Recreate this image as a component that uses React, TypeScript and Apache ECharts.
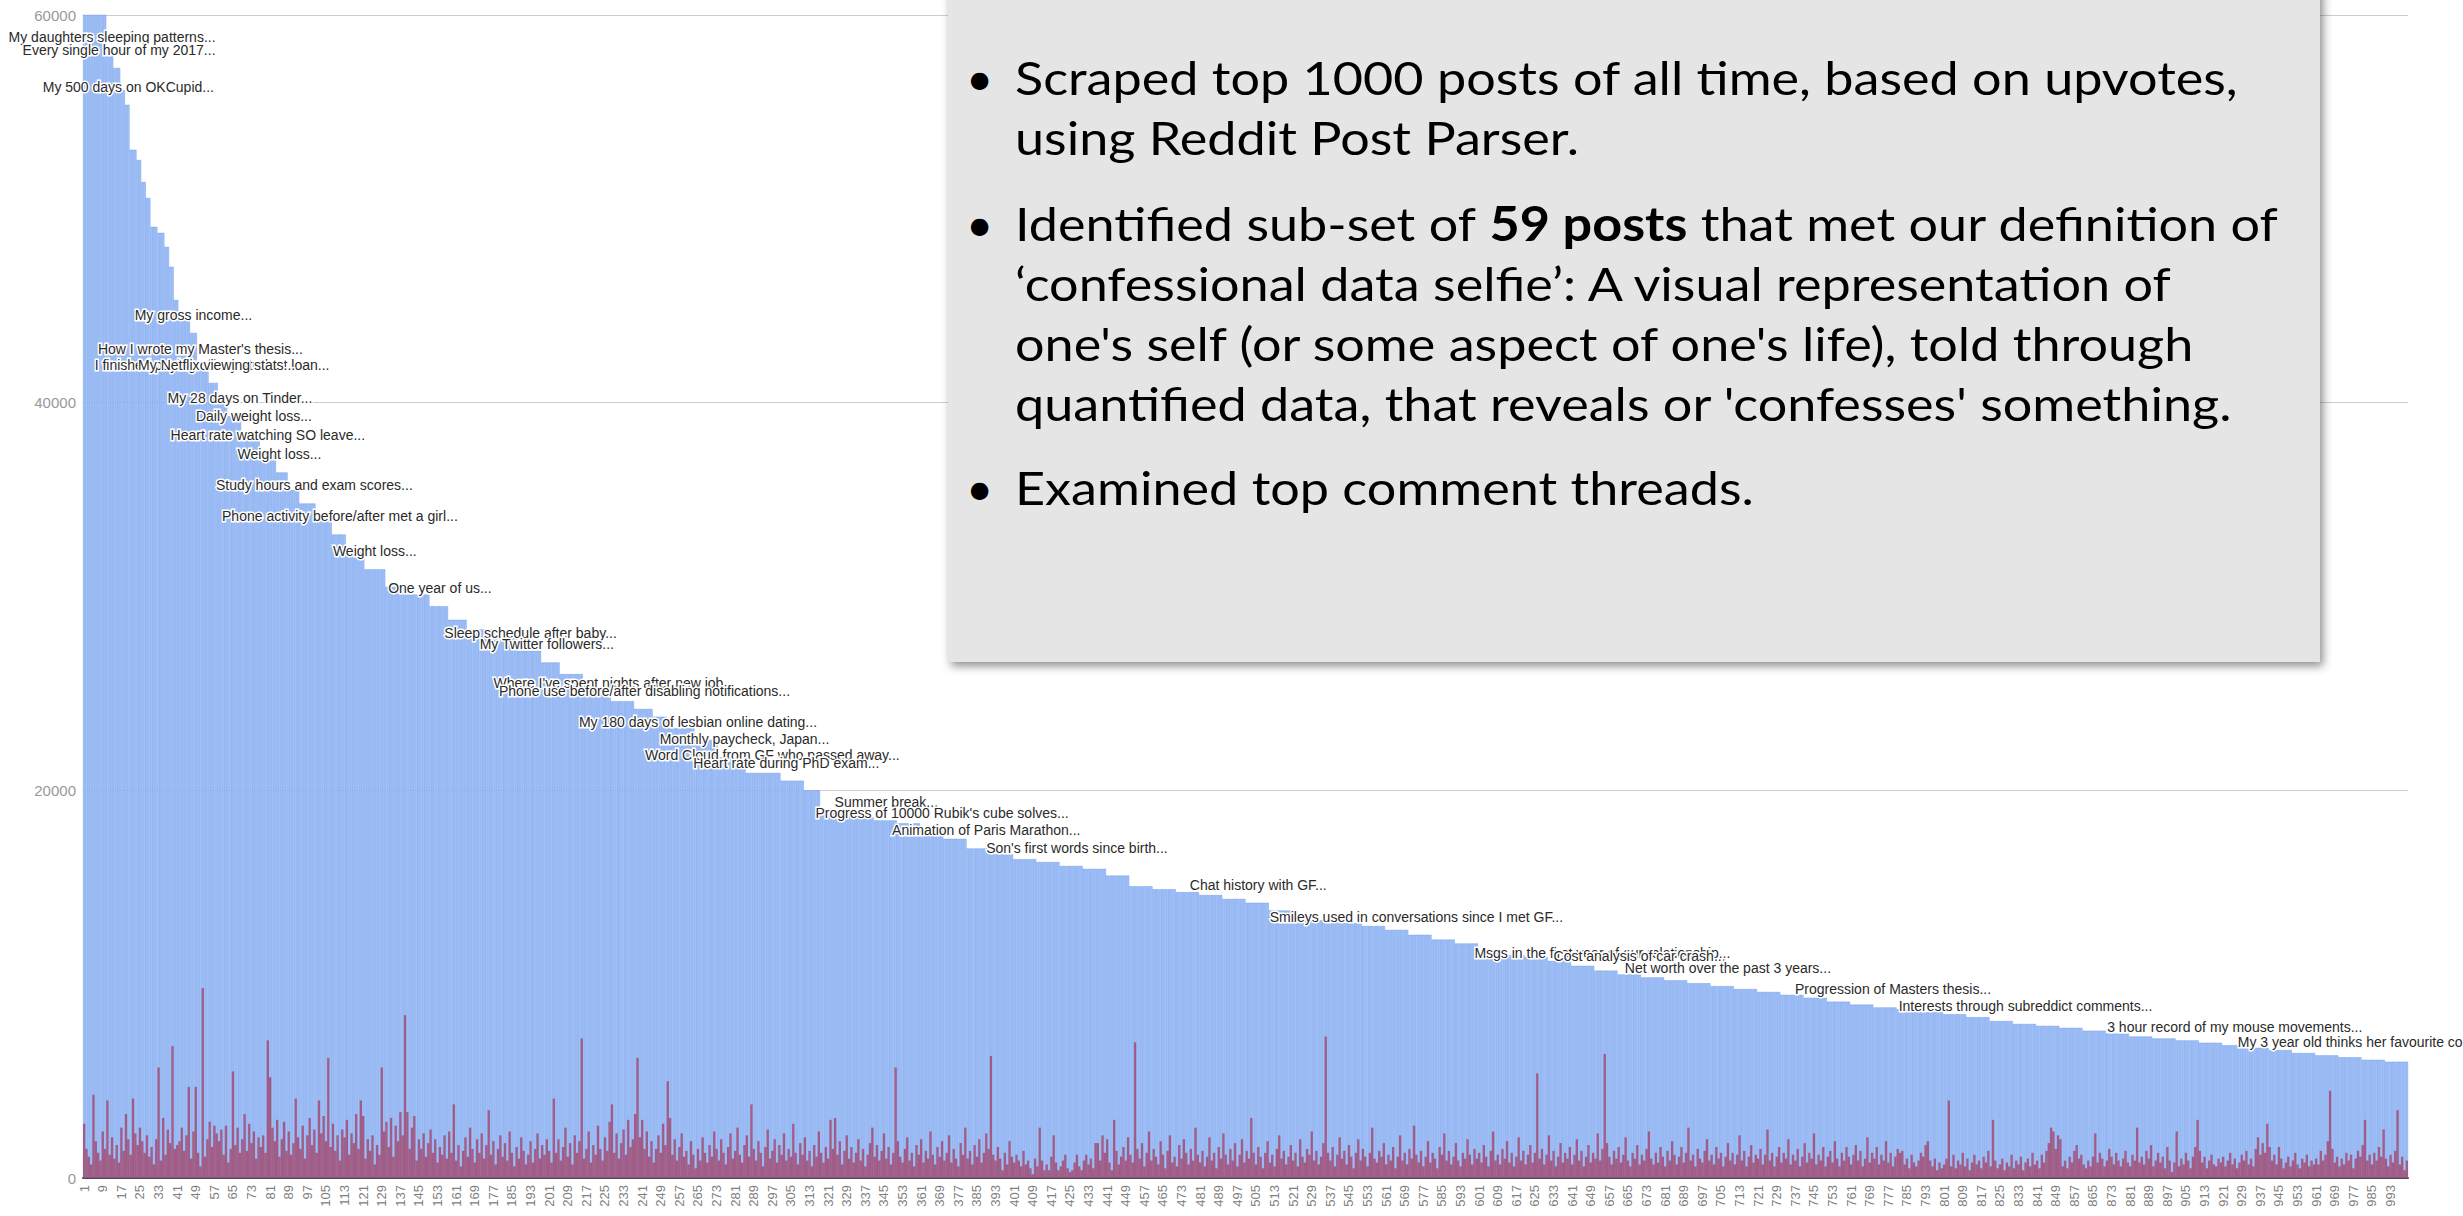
import { useEffect, useRef } from "react";
import * as echarts from "echarts";

// y axis ticks
const yTicks = [0, 20000, 40000, 60000];

// Upvotes of the ten top posts (clipped above 60000 in the picture)
const topUpvotes = [66000, 65000, 64000, 63500, 63000, 62000, 61500, 61000, 60500, 60200];

// Remaining upvotes, read as runs of [number of bars, upvotes]
const upvoteRuns: [number, number][] = [
  [3, 57950], [3, 57270], [2, 56140], [2, 55370], [3, 53050], [2, 52520], [2, 51390], [2, 50560],
  [3, 49070], [3, 48760], [2, 48040], [2, 47010], [2, 45300], [5, 44630], [3, 43600], [5, 41850],
  [4, 41020], [4, 40000], [6, 39300], [8, 38400], [7, 37400], [5, 36400], [5, 35500], [7, 34800],
  [7, 33900], [6, 33200], [8, 32300], [9, 31400], [9, 30500], [10, 30100], [8, 29500], [8, 28800],
  [12, 28300], [10, 27900], [10, 27200], [8, 26600], [10, 26000], [12, 25300], [10, 24600], [8, 24200],
  [6, 23800], [12, 23200], [10, 22600], [12, 21700], [15, 20900], [10, 20500], [7, 20000], [13, 18900],
  [10, 18600], [10, 18450], [10, 18300], [10, 17900], [10, 17500], [10, 17000], [10, 16700], [10, 16450],
  [10, 16300], [10, 16100], [10, 15950], [10, 15600], [10, 15050], [10, 14900], [10, 14750], [10, 14600],
  [10, 14400], [10, 14200], [10, 13800], [10, 13500], [10, 13300], [10, 13150], [10, 13000], [10, 12800],
  [10, 12550], [10, 12300], [10, 12100], [10, 11600], [10, 11500], [10, 11400], [10, 11200], [10, 10950],
  [10, 10700], [10, 10500], [10, 10350], [10, 10200], [10, 10050], [10, 9900], [10, 9750], [10, 9600],
  [10, 9450], [10, 9300], [10, 9100], [10, 8950], [10, 8800], [10, 8700], [10, 8550], [10, 8450],
  [10, 8300], [10, 8100], [10, 7950], [10, 7850], [10, 7750], [10, 7600], [10, 7450], [10, 7300],
  [10, 7200], [10, 7100], [10, 6980], [10, 6850], [10, 6720], [10, 6600], [10, 6450], [10, 6330],
  [10, 6230], [10, 6100], [10, 6000],
];

// Comments per post (red bars), 40 per row
const comments = [
  2800, 1500, 1100, 700, 4300, 1900, 1300, 900, 2400, 1500, 4000, 1200, 2100, 1000, 1700, 800, 2600, 1400, 3300, 2000, 1200, 4100, 2300, 1700, 2600, 1900, 1300, 2200, 1100, 1600, 700, 2000, 5700, 900, 3100, 1200, 2500, 1800, 6800, 1500,
  1700, 1900, 2600, 1400, 2200, 4700, 1000, 2400, 4700, 1300, 600, 9800, 1100, 2000, 2900, 1600, 2700, 2300, 1900, 2500, 1200, 2700, 800, 1500, 5500, 1700, 2600, 1300, 2000, 3300, 1400, 2800, 1800, 2400, 1000, 2100, 1600, 2200, 1300, 7100,
  5200, 2600, 1900, 3000, 1100, 2000, 2900, 1400, 2400, 1200, 1800, 4100, 2100, 1500, 2700, 1000, 2200, 3100, 1700, 2500, 1300, 4000, 2300, 3200, 1900, 6200, 1600, 2800, 1400, 2200, 900, 2500, 2100, 3000, 1200, 2300, 1800, 3300, 1500, 4000,
  3200, 1000, 2000, 1400, 2200, 700, 1700, 1200, 5700, 2400, 2900, 1600, 3100, 1100, 2700, 1900, 3400, 2200, 8400, 3400, 1500, 2600, 3200, 900, 2000, 1500, 2300, 1100, 1800, 2500, 1300, 2000, 800, 1600, 1200, 2200, 1000, 2400, 1300, 3800,
  900, 1700, 600, 1400, 2100, 1100, 2600, 1500, 800, 2000, 1300, 2300, 1000, 1700, 3500, 1200, 1900, 700, 1500, 2200, 1100, 1800, 900, 2400, 1300, 600, 1600, 1000, 2100, 1400, 700, 1200, 1900, 800, 1500, 2300, 1000, 1700, 1200, 2000,
  1400, 800, 4100, 1300, 2000, 900, 1600, 2600, 1100, 1800, 700, 2200, 1300, 1900, 7200, 1000, 1500, 2400, 800, 1700, 1200, 2700, 1500, 900, 2100, 1400, 2900, 3800, 1300, 2300, 1000, 1800, 2500, 1200, 3000, 1600, 2000, 3300, 6200, 2100,
  3000, 1500, 2400, 1100, 1900, 800, 1500, 2200, 1300, 2800, 1700, 5000, 3100, 1200, 2000, 900, 1600, 2300, 1100, 1400, 700, 1900, 1200, 500, 1500, 900, 2100, 1300, 800, 1700, 1100, 2400, 1500, 900, 2000, 1300, 700, 1600, 2300, 1000,
  1400, 2600, 1200, 800, 1700, 2200, 1100, 3800, 1500, 900, 1900, 1300, 600, 1600, 2500, 1000, 1400, 2000, 800, 1700, 1200, 2300, 900, 1500, 1100, 2800, 1300, 700, 1800, 1200, 2100, 900, 1400, 600, 1700, 1100, 2400, 1300, 800, 1600,
  1000, 3000, 1500, 3100, 1200, 1900, 700, 1400, 2200, 1000, 1600, 800, 1300, 2000, 900, 1500, 600, 1200, 1800, 2600, 1100, 1700, 900, 1400, 2300, 1000, 1600, 700, 1300, 5700, 1900, 1100, 800, 1500, 2100, 900, 1300, 600, 1700, 1200,
  2000, 800, 1400, 1000, 2400, 1200, 700, 1600, 1100, 1900, 900, 1300, 2200, 800, 1500, 1000, 600, 1800, 1200, 2600, 1000, 1400, 700, 1700, 1100, 2000, 800, 1300, 2300, 1500, 6300, 1200, 900, 1600, 1000, 400, 1300, 700, 1900, 1100,
  800, 1200, 900, 600, 1400, 700, 900, 500, 200, 1000, 600, 2600, 900, 400, 700, 400, 1100, 2200, 800, 400, 600, 900, 1200, 500, 300, 400, 800, 1200, 600, 400, 900, 1200, 700, 1000, 500, 1800, 1800, 900, 2200, 1300,
  2000, 800, 400, 3000, 1400, 700, 1100, 1600, 900, 2100, 1200, 800, 7000, 1500, 1000, 1800, 600, 1300, 2400, 900, 1500, 1100, 700, 1900, 1200, 500, 1400, 2200, 800, 1100, 600, 1700, 1000, 2000, 1300, 700, 1500, 900, 2600, 1200,
  800, 1400, 600, 1100, 2100, 900, 1300, 500, 1600, 1000, 2300, 1200, 700, 1500, 900, 1800, 600, 1200, 2000, 800, 1400, 1000, 3100, 1300, 700, 1600, 1100, 500, 1300, 1900, 800, 1200, 600, 1500, 2200, 1000, 1400, 700, 1100, 1700,
  900, 1300, 600, 2000, 1100, 800, 1500, 1200, 2400, 900, 1400, 700, 1100, 1800, 7300, 1300, 900, 1600, 600, 1200, 2100, 1000, 1400, 700, 1700, 1100, 500, 1300, 2000, 900, 1500, 1100, 600, 1300, 2600, 1000, 800, 1400, 1100, 1800,
  700, 1200, 900, 1600, 500, 1100, 2200, 900, 1300, 700, 1500, 1000, 2700, 1200, 800, 1400, 600, 1100, 1900, 800, 1300, 1000, 500, 1600, 1200, 2300, 900, 1400, 700, 1100, 1800, 900, 600, 1300, 1000, 2000, 1200, 700, 1500, 1000,
  1300, 800, 1700, 1100, 600, 1400, 2400, 900, 1200, 700, 1500, 1000, 1900, 800, 1300, 600, 1100, 2100, 900, 1400, 700, 1200, 1700, 800, 1300, 5400, 1000, 1500, 700, 1200, 2200, 900, 1400, 600, 1100, 1800, 800, 1300, 1000, 1600,
  700, 1200, 2000, 900, 1400, 600, 1100, 1700, 800, 1300, 1000, 2300, 900, 1500, 6400, 1800, 1100, 700, 1400, 1000, 1600, 800, 1200, 2100, 900, 600, 1300, 1000, 1700, 700, 1200, 900, 1500, 2400, 1000, 700, 1300, 800, 1600, 1100,
  600, 1400, 900, 1900, 1200, 700, 1100, 1600, 800, 1300, 2600, 900, 1200, 600, 1500, 1000, 800, 1400, 2000, 900, 1200, 700, 1600, 1000, 1300, 600, 1100, 1800, 900, 1300, 700, 1200, 2200, 900, 1400, 600, 1100, 1700, 800, 1200,
  1000, 1500, 700, 1200, 2500, 900, 1300, 600, 1100, 1600, 800, 1300, 1000, 2000, 700, 1200, 900, 1500, 600, 1100, 1800, 800, 1300, 1000, 2300, 700, 1200, 900, 1600, 600, 1100, 1400, 800, 1900, 1000, 600, 1300, 900, 1600, 1100,
  700, 1200, 1700, 900, 1400, 600, 1000, 2100, 800, 1300, 1000, 1600, 700, 1200, 900, 1900, 800, 1300, 600, 1100, 1500, 1300, 1400, 700, 1000, 500, 1200, 800, 600, 900, 1300, 1100, 1700, 1900, 900, 600, 1000, 400, 800, 500,
  700, 1000, 4000, 600, 1200, 500, 900, 700, 1300, 600, 1000, 400, 800, 1200, 700, 900, 500, 1100, 800, 1400, 600, 3000, 900, 500, 700, 1000, 400, 800, 600, 1200, 500, 900, 700, 1100, 400, 800, 1000, 600, 1300, 700,
  900, 500, 1200, 800, 1400, 1800, 2600, 2400, 1500, 2200, 2000, 600, 900, 500, 1100, 800, 1400, 1700, 1000, 1200, 700, 500, 900, 600, 1100, 2300, 800, 1300, 1000, 600, 900, 1500, 1100, 700, 1300, 900, 600, 1000, 1400, 800,
  600, 1200, 900, 2600, 800, 1100, 700, 1400, 1000, 1700, 600, 900, 1300, 800, 1100, 500, 1600, 900, 300, 800, 2400, 600, 1000, 700, 1300, 900, 500, 1100, 1600, 3000, 1400, 800, 1100, 500, 900, 1200, 700, 600, 1000, 800,
  1100, 600, 900, 1300, 700, 1000, 500, 800, 1200, 900, 1400, 700, 1000, 600, 1500, 2100, 1200, 1800, 1300, 2800, 1600, 900, 1200, 700, 1600, 1000, 500, 800, 1100, 600, 900, 1300, 700, 500, 1000, 800, 1200, 600, 900, 700,
  1000, 700, 1400, 900, 1200, 1900, 4500, 1500, 800, 1100, 600, 1000, 700, 1300, 900, 1200, 500, 1000, 1400, 1100, 1700, 3000, 900, 1200, 700, 1300, 900, 1600, 1100, 2500, 1000, 600, 1200, 800, 1400, 3500, 700, 1100, 400, 900,
];

// Post titles annotated on the chart: [rank index, title]
const annotations: [number, string][] = [
  [12, "My daughters sleeping patterns..."],
  [15, "Every single hour of my 2017..."],
  [19, "My 500 days on OKCupid..."],
  [47, "My gross income..."],
  [50, "How I wrote my Master's thesis..."],
  [55, "I finished paying off my student loan..."],
  [57, "My Netflix viewing stats..."],
  [67, "My 28 days on Tinder..."],
  [73, "Daily weight loss..."],
  [79, "Heart rate watching SO leave..."],
  [84, "Weight loss..."],
  [99, "Study hours and exam scores..."],
  [110, "Phone activity before/after met a girl..."],
  [125, "Weight loss..."],
  [153, "One year of us..."],
  [192, "Sleep schedule after baby..."],
  [199, "My Twitter followers..."],
  [228, "Where I've spent nights after new job..."],
  [241, "Phone use before/after disabling notifications..."],
  [264, "My 180 days of lesbian online dating..."],
  [284, "Monthly paycheck, Japan..."],
  [296, "Word Cloud from GF who passed away..."],
  [302, "Heart rate during PhD exam..."],
  [345, "Summer break..."],
  [369, "Progress of 10000 Rubik's cube solves..."],
  [388, "Animation of Paris Marathon..."],
  [427, "Son's first words since birth..."],
  [505, "Chat history with GF..."],
  [573, "Smileys used in conversations since I met GF..."],
  [653, "Msgs in the first year of our relationship..."],
  [669, "Cost analysis of car crash..."],
  [707, "Net worth over the past 3 years..."],
  [778, "Progression of Masters thesis..."],
  [835, "Interests through subreddict comments..."],
  [925, "3 hour record of my mouse movements..."],
  [982, "My 3 year old thinks her favourite colour..."],
];

// Text box lines: [bullet?, text]
const boxLines: [boolean, string][] = [
  [true, "Scraped top 1000 posts of all time, based on upvotes,"],
  [false, "using Reddit Post Parser."],
  [true, "{n|Identified sub-set of }{b|59 posts}{n| that met our definition of}"],
  [false, "\u2018confessional data selfie\u2019: A visual representation of"],
  [false, "one's self (or some aspect of one's life), told through"],
  [false, "quantified data, that reveals or 'confesses' something."],
  [true, "Examined top comment threads."],
];

function expand(top: number[], runs: [number, number][]): number[] {
  const out = top.slice();
  runs.forEach(([n, v]) => {
    for (let k = 0; k < n; k++) out.push(v);
  });
  return out;
}

export default function App() {
  const ref = useRef<HTMLDivElement>(null);

  useEffect(() => {
    if (!ref.current) return;
    const chart = echarts.init(ref.current, undefined, { renderer: "svg" });
    const upvotes = expand(topUpvotes, upvoteRuns);
    const categories = upvotes.map((_, i) => String(i + 1));
    const annMap = new Map<number, string>(annotations);
    const blueData = upvotes.map((v, i) =>
      annMap.has(i)
        ? { value: v, label: { show: true, formatter: annMap.get(i) } }
        : v
    );

    const baselines = [92, 152, 238, 298, 358, 418, 502];
    const fontSize = 47;
    const sx = 1.11;
    const textFont = "Lato, 'Open Sans', sans-serif";
    const graphics: any[] = [
      {
        type: "rect",
        z: 100,
        shape: { x: 948, y: -30, width: 1372, height: 692 },
        style: {
          fill: "#e5e5e5",
          shadowBlur: 10,
          shadowColor: "rgba(0,0,0,0.45)",
          shadowOffsetX: 3,
          shadowOffsetY: 4,
        },
      },
    ];
    boxLines.forEach(([bullet, txt], k) => {
      const y = baselines[k] - 15;
      if (bullet) {
        graphics.push({
          type: "text",
          z: 101,
          x: 966,
          y,
          style: {
            x: 0,
            y: 0,
            text: "\u2022",
            fill: "#000",
            font: `${fontSize}px ${textFont}`,
            verticalAlign: "middle",
          },
        });
      }
      graphics.push({
        type: "text",
        z: 101,
        x: 1015,
        y,
        scaleX: sx,
        style: {
          x: 0,
          y: 0,
          text: txt,
          fill: "#000",
          font: `${fontSize}px ${textFont}`,
          verticalAlign: "middle",
          rich: {
            n: { fontSize, fontFamily: textFont, fill: "#000" },
            b: { fontSize, fontFamily: textFont, fontWeight: "bold", fill: "#000" },
          },
        },
      });
    });

    chart.setOption({
      animation: false,
      backgroundColor: "#ffffff",
      grid: {
        left: 83,
        right: 55,
        top: 15,
        bottom: 38,
        containLabel: false,
        outerBoundsMode: "none",
      },
      xAxis: {
        type: "category",
        data: categories,
        axisTick: { show: false },
        axisLine: { show: true, lineStyle: { color: "#444", width: 2 } },
        axisLabel: {
          interval: 7,
          rotate: 90,
          fontSize: 13,
          color: "#808080",
          fontFamily: "'Liberation Sans', Arial, sans-serif",
          margin: 7,
        },
        splitLine: { show: false },
      },
      yAxis: {
        type: "value",
        min: yTicks[0],
        max: yTicks[yTicks.length - 1],
        interval: yTicks[1] - yTicks[0],
        axisLine: { show: false },
        axisTick: { show: false },
        axisLabel: {
          fontSize: 15,
          color: "#999",
          fontFamily: "'Liberation Sans', Arial, sans-serif",
          margin: 7,
          formatter: (v: number) => String(v),
        },
        splitLine: { lineStyle: { color: "#cccccc", width: 1 } },
      },
      series: [
        {
          type: "bar",
          name: "Upvotes",
          data: blueData,
          barCategoryGap: "0%",
          barGap: "-100%",
          z: 2,
          silent: true,
          itemStyle: { color: "#a6c4f7", borderColor: "#6f9bec", borderWidth: 0.5 },
          label: {
            show: false,
            position: "top",
            distance: 11,
            fontFamily: "'Liberation Sans', Arial, sans-serif",
            fontSize: 14,
            color: "#2a2a2a",
            textBorderColor: "#fff",
            textBorderWidth: 3,
          },
        },
        {
          type: "bar",
          name: "Comments",
          data: comments,
          barCategoryGap: "0%",
          barGap: "-100%",
          z: 3,
          silent: true,
          itemStyle: { color: "rgba(165,30,60,0.6)" },
        },
      ],
      graphic: graphics,
    });
    return () => chart.dispose();
  }, []);

  return (
    <div
      ref={ref}
      style={{ position: "fixed", left: 0, top: 0, width: 2463, height: 1216, background: "#fff" }}
    />
  );
}
